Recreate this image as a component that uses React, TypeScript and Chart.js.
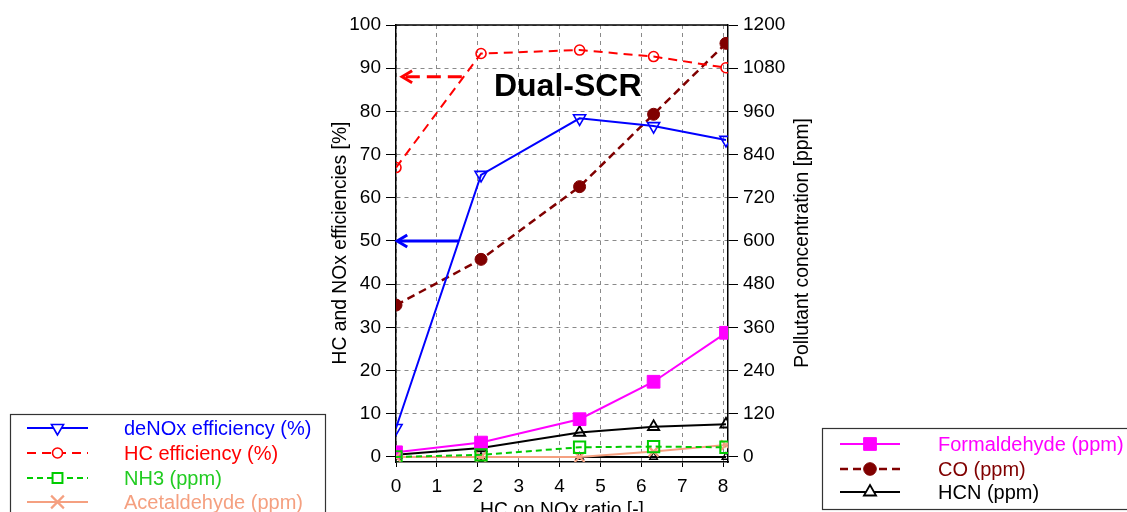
import React, { useEffect, useRef } from 'react';
import { Chart, registerables } from 'chart.js';
import { drawPoint } from 'chart.js/helpers';

Chart.register(...registerables);

// ---------- data ----------
const hcNoxRatio = [0, 2.08, 4.49, 6.3, 8.07];
const deNOxEfficiency = [6.7, 65.3, 78.4, 76.6, 73.4];
const hcEfficiency = [67, 93.4, 94.2, 92.7, 90.1];
const nh3Ppm = [0, 6, 27, 29, 27];
const acetaldehydePpm = [0, 0, 0, 15, 33];
const formaldehydePpm = [13, 40, 105, 209, 345];
const coPpm = [422, 549, 751, 952, 1149];
const hcnPpm = [6, 25, 68, 84, 91];
const hcnBaselinePpm = [0, 0, 0, 0, 0];

const xTickValues = [0, 1, 2, 3, 4, 5, 6, 7, 8];
const leftTickValues = [0, 10, 20, 30, 40, 50, 60, 70, 80, 90, 100];
const rightTickValues = [0, 120, 240, 360, 480, 600, 720, 840, 960, 1080, 1200];

const leftLegendLabels = ['deNOx efficiency (%)', 'HC efficiency (%)', 'NH3 (ppm)', 'Acetaldehyde (ppm)'];
const rightLegendLabels = ['Formaldehyde (ppm)', 'CO (ppm)', 'HCN (ppm)'];

// arrow annotations (value units)
const arrowLevels = [88, 50];
const arrowStarts = [1.61, 1.53];
const arrowEnds = [0.15, 0.03];

const FONT = "'Liberation Sans', Arial, Helvetica, sans-serif";
Chart.defaults.font.family = FONT;

const pts = (ys: number[]) => ys.map((y, i) => ({ x: hcNoxRatio[i], y }));

const datasets: any[] = [
  {
    label: leftLegendLabels[0], data: pts(deNOxEfficiency), yAxisID: 'y',
    borderColor: '#0000FF', borderWidth: 2, borderDash: [],
    pointStyle: 'triangle', rotation: 180, pointRadius: 7, legendRadius: 7,
    pointBackgroundColor: 'rgba(0,0,0,0)', pointBorderColor: '#0000FF', pointBorderWidth: 1.6,
    textColor: '#0000FF',
  },
  {
    label: leftLegendLabels[1], data: pts(hcEfficiency), yAxisID: 'y',
    borderColor: '#FF0000', borderWidth: 2, borderDash: [9, 6],
    pointStyle: 'circle', rotation: 0, pointRadius: 5, legendRadius: 5,
    pointBackgroundColor: 'rgba(0,0,0,0)', pointBorderColor: '#FF0000', pointBorderWidth: 1.6,
    textColor: '#FF0000',
  },
  {
    label: leftLegendLabels[2], data: pts(nh3Ppm), yAxisID: 'y1',
    borderColor: '#00CC00', borderWidth: 2, borderDash: [6, 4],
    pointStyle: 'rect', rotation: 0, pointRadius: 8, legendRadius: 7,
    pointBackgroundColor: 'rgba(0,0,0,0)', pointBorderColor: '#00CC00', pointBorderWidth: 2,
    textColor: '#22CC22',
  },
  {
    label: leftLegendLabels[3], data: pts(acetaldehydePpm), yAxisID: 'y1',
    borderColor: '#F5A080', borderWidth: 2, borderDash: [],
    pointStyle: 'crossRot', rotation: 0, pointRadius: 7, legendRadius: 9,
    pointBackgroundColor: 'rgba(0,0,0,0)', pointBorderColor: '#F5A080', pointBorderWidth: 2.2,
    textColor: '#F5A080',
  },
  {
    label: rightLegendLabels[0], data: pts(formaldehydePpm), yAxisID: 'y1',
    borderColor: '#FF00FF', borderWidth: 2, borderDash: [],
    pointStyle: 'rect', rotation: 0, pointRadius: 9, legendRadius: 9,
    pointBackgroundColor: '#FF00FF', pointBorderColor: '#FF00FF', pointBorderWidth: 1,
    textColor: '#FF00FF',
  },
  {
    label: rightLegendLabels[1], data: pts(coPpm), yAxisID: 'y1',
    borderColor: '#800000', borderWidth: 2.5, borderDash: [8, 5],
    pointStyle: 'circle', rotation: 0, pointRadius: 6, legendRadius: 6.3,
    pointBackgroundColor: '#800000', pointBorderColor: '#800000', pointBorderWidth: 1,
    textColor: '#800000',
  },
  {
    label: rightLegendLabels[2], data: pts(hcnPpm), yAxisID: 'y1',
    borderColor: '#000000', borderWidth: 2, borderDash: [],
    pointStyle: 'triangle', rotation: 0, pointRadius: 6.5, legendRadius: 7,
    pointBackgroundColor: 'rgba(0,0,0,0)', pointBorderColor: '#000000', pointBorderWidth: 1.8,
    textColor: '#000000',
  },
  {
    label: 'HCN baseline', data: pts(hcnBaselinePpm), yAxisID: 'y1',
    borderColor: '#000000', borderWidth: 2, borderDash: [],
    pointStyle: 'triangle', rotation: 0, pointRadius: 4.5, legendRadius: 4.5,
    pointBackgroundColor: 'rgba(0,0,0,0)', pointBorderColor: '#000000', pointBorderWidth: 1.3,
    textColor: '#000000',
  },
];

function drawLegendBox(ctx: CanvasRenderingContext2D, chart: any, box: { x: number; y: number; w: number; h: number },
  indices: number[], rowYs: number[], lineX0: number, lineX1: number, textX: number) {
  ctx.save();
  ctx.fillStyle = '#FFFFFF';
  ctx.fillRect(box.x, box.y, box.w, box.h);
  ctx.strokeStyle = '#333333';
  ctx.lineWidth = 1.2;
  ctx.strokeRect(box.x + 0.5, box.y + 0.5, box.w, box.h);
  indices.forEach((di, r) => {
    const ds = chart.data.datasets[di];
    const yy = rowYs[r];
    ctx.strokeStyle = ds.borderColor;
    ctx.lineWidth = ds.borderWidth;
    ctx.setLineDash(ds.borderDash || []);
    ctx.beginPath();
    ctx.moveTo(lineX0, yy);
    ctx.lineTo(lineX1, yy);
    ctx.stroke();
    ctx.setLineDash([]);
    ctx.fillStyle = ds.pointBackgroundColor === 'rgba(0,0,0,0)' ? '#FFFFFF' : ds.pointBackgroundColor;
    ctx.strokeStyle = ds.pointBorderColor;
    ctx.lineWidth = ds.pointBorderWidth;
    drawPoint(ctx, { pointStyle: ds.pointStyle, rotation: ds.rotation, radius: ds.legendRadius, borderWidth: ds.pointBorderWidth } as any,
      (lineX0 + lineX1) / 2, yy);
    ctx.fillStyle = ds.textColor;
    ctx.font = `20px ${FONT}`;
    ctx.textAlign = 'left';
    ctx.textBaseline = 'middle';
    ctx.fillText(ds.label, textX, yy + 1);
  });
  ctx.restore();
}

const decorPlugin = {
  id: 'decor',
  afterDatasetsDraw(chart: any) {
    const { ctx, chartArea, scales } = chart;
    const xs = scales.x;
    const ys = scales.y;
    ctx.save();
    // top frame line
    ctx.strokeStyle = '#000';
    ctx.lineWidth = 1.5;
    ctx.beginPath();
    ctx.moveTo(chartArea.left, chartArea.top);
    ctx.lineTo(chartArea.right, chartArea.top);
    ctx.stroke();

    // arrows
    const arrowColors = ['#FF0000', '#0000FF'];
    const arrowDashes = [[14, 7], []];
    arrowLevels.forEach((lv, i) => {
      const yy = ys.getPixelForValue(lv);
      const x0 = xs.getPixelForValue(arrowStarts[i]);
      const x1 = xs.getPixelForValue(arrowEnds[i]);
      ctx.strokeStyle = arrowColors[i];
      ctx.lineWidth = 3;
      ctx.setLineDash(arrowDashes[i]);
      ctx.beginPath();
      ctx.moveTo(x0, yy);
      ctx.lineTo(x1 + 2, yy);
      ctx.stroke();
      ctx.setLineDash([]);
      ctx.beginPath();
      ctx.moveTo(x1 + 10, yy - 6);
      ctx.lineTo(x1, yy);
      ctx.lineTo(x1 + 10, yy + 6);
      ctx.stroke();
    });

    // title
    ctx.fillStyle = '#000';
    ctx.font = `bold 32px ${FONT}`;
    ctx.textAlign = 'center';
    ctx.textBaseline = 'middle';
    ctx.fillText('Dual-SCR', xs.getPixelForValue(4.2), ys.getPixelForValue(85.6));
    ctx.restore();
  },
  afterDraw(chart: any) {
    const { ctx } = chart;
    ctx.save();
    ctx.fillStyle = '#000';
    ctx.font = `19.3px ${FONT}`;
    ctx.textAlign = 'center';
    ctx.textBaseline = 'middle';
    // left axis title
    ctx.save();
    ctx.translate(341, 243);
    ctx.rotate(-Math.PI / 2);
    ctx.fillText('HC and NOx efficiencies [%]', 0, 0);
    ctx.restore();
    // right axis title
    ctx.save();
    ctx.translate(803, 243);
    ctx.rotate(-Math.PI / 2);
    ctx.fillText('Pollutant concentration [ppm]', 0, 0);
    ctx.restore();
    // x axis title
    ctx.textBaseline = 'alphabetic';
    ctx.fillText('HC on NOx ratio [-]', 562, 516);
    ctx.restore();

    drawLegendBox(ctx, chart, { x: 10, y: 414, w: 315, h: 120 }, [0, 1, 2, 3], [428, 453, 478, 502], 27, 88, 124);
    drawLegendBox(ctx, chart, { x: 822, y: 428, w: 320, h: 81 }, [4, 5, 6], [444, 469, 492], 840, 900, 938);
  },
};

export default function App() {
  const ref = useRef<HTMLCanvasElement>(null);
  useEffect(() => {
    const chart = new Chart(ref.current!, {
      type: 'line',
      data: { datasets },
      options: {
        animation: false,
        responsive: false,
        devicePixelRatio: 1,
        layout: { padding: { top: 25, left: 0, right: 0, bottom: 0 } },
        plugins: { legend: { display: false }, tooltip: { enabled: false } },
        elements: { line: { tension: 0 } },
        scales: {
          x: {
            type: 'linear', position: 'bottom', min: 0, max: 8.12,
            afterBuildTicks: (s: any) => { s.ticks = xTickValues.map((v) => ({ value: v })); },
            afterFit: (s: any) => { s.height = 50; },
            ticks: { color: '#000', font: { size: 19 }, padding: 8, maxRotation: 0, autoSkip: false, callback: (v: any) => String(v) },
            grid: { color: '#8a8a8a', lineWidth: 1, tickColor: '#000', tickLength: 5, tickBorderDash: [] },
            border: { color: '#000', width: 1.5, dash: [4, 4] },
          },
          y: {
            type: 'linear', position: 'left', min: -1.16, max: 100,
            afterBuildTicks: (s: any) => { s.ticks = leftTickValues.map((v) => ({ value: v })); },
            afterFit: (s: any) => { s.width = 396; },
            ticks: { color: '#000', font: { size: 19 }, padding: 5, callback: (v: any) => String(v) },
            grid: { color: '#8a8a8a', lineWidth: 1, tickColor: '#000', tickLength: 10, tickBorderDash: [] },
            border: { color: '#000', width: 1.5, dash: [4, 4] },
          },
          y1: {
            type: 'linear', position: 'right', min: -13.9, max: 1200,
            afterBuildTicks: (s: any) => { s.ticks = rightTickValues.map((v) => ({ value: v })); },
            afterFit: (s: any) => { s.width = 1127 - 728; },
            ticks: { color: '#000', font: { size: 19 }, padding: 5, callback: (v: any) => String(v) },
            grid: { drawOnChartArea: false, color: '#000', tickColor: '#000', tickLength: 10, tickBorderDash: [] },
            border: { color: '#000', width: 1.5 },
          },
        },
      } as any,
      plugins: [decorPlugin],
    });
    return () => chart.destroy();
  }, []);
  return (
    <div style={{ position: 'fixed', left: 0, top: 0, width: 1127, height: 512, background: '#fff' }}>
      <canvas ref={ref} width={1127} height={512} style={{ display: 'block' }} />
    </div>
  );
}
